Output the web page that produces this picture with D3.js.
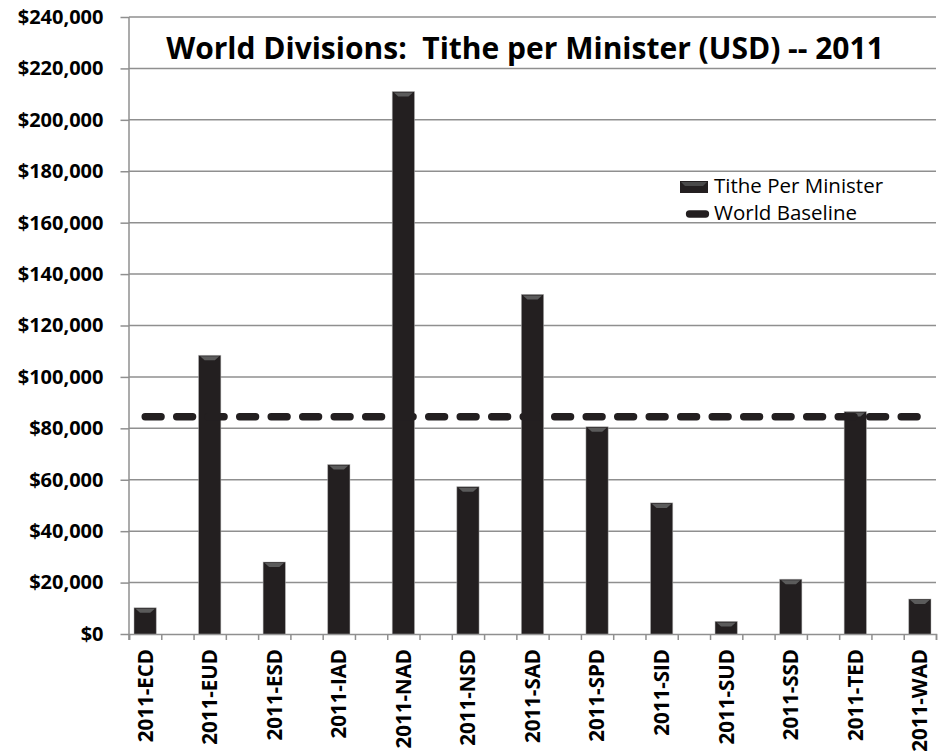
<!DOCTYPE html>
<html>
<head>
<meta charset="utf-8">
<script src="https://cdn.jsdelivr.net/npm/d3@7"></script>
<style>
  body { margin: 0; background: #fff; }
  text { font-family: "Open Sans", "DejaVu Sans", sans-serif; }
</style>
</head>
<body>
<div id="vis"></div>
<script>
var categories = ["2011-ECD", "2011-EUD", "2011-ESD", "2011-IAD", "2011-NAD", "2011-NSD", "2011-SAD",
  "2011-SPD", "2011-SID", "2011-SUD", "2011-SSD", "2011-TED", "2011-WAD"];
var tithePerMinister = [10200, 108400, 28000, 65900, 211000, 57300, 132100, 80600, 51000, 4900, 21300, 86500, 13600];
var worldBaseline = 84500;
var yTicks = [0, 20000, 40000, 60000, 80000, 100000, 120000, 140000, 160000, 180000, 200000, 220000, 240000];
var title = "World Divisions:  Tithe per Minister (USD) -- 2011";
var legendLabels = ["Tithe Per Minister", "World Baseline"];

var width = 948, height = 754;
var margin = { top: 17, right: 12, bottom: 120, left: 129 };
var barColor = "#231f20", gridColor = "#8f8f8f";

var svg = d3.select("#vis")
  .append("svg")
  .attr("width", width)
  .attr("height", height);

svg.append("rect").attr("width", width).attr("height", height).attr("fill", "#fff");

// each division gets a slot, with an empty slot between divisions
var slots = [];
categories.forEach(function (c, i) {
  slots.push(c);
  if (i < categories.length - 1) slots.push("_gap" + i);
});

var x = d3.scaleBand()
  .domain(slots)
  .range([margin.left, width - margin.right]);
var xTicks = d3.scaleLinear()
  .domain([0, slots.length])
  .range(x.range());
var y = d3.scaleLinear()
  .domain([0, 240000])
  .range([height - margin.bottom, margin.top]);

////////// grid + axes //////////
svg.append("g")
  .attr("class", "grid")
  .selectAll("line")
  .data(yTicks.slice(1))
  .enter()
  .append("line")
  .attr("x1", x.range()[0])
  .attr("x2", x.range()[1])
  .attr("y1", function (d) { return y(d); })
  .attr("y2", function (d) { return y(d); })
  .attr("stroke", gridColor)
  .attr("stroke-width", 1.5);

var yAxis = svg.append("g")
  .attr("transform", "translate(" + margin.left + ",0)")
  .call(d3.axisLeft(y)
    .tickValues(yTicks)
    .tickSize(8.5)
    .tickPadding(17)
    .tickFormat(function (d) { return "$" + d3.format(",")(d); }));
yAxis.select(".domain").remove();
yAxis.selectAll(".tick line").attr("stroke", gridColor).attr("stroke-width", 1.5);
yAxis.selectAll(".tick text")
  .attr("fill", "#000")
  .style("font-size", "20px")
  .style("font-weight", "bold")
  .style("font-family", "'Open Sans', sans-serif");

svg.append("line")
  .attr("x1", margin.left).attr("x2", margin.left)
  .attr("y1", y(240000)).attr("y2", y(0) + 6)
  .attr("stroke", gridColor)
  .attr("stroke-width", 1.5);

var xAxis = svg.append("g")
  .attr("transform", "translate(0," + y(0) + ")")
  .call(d3.axisBottom(xTicks)
    .tickValues(d3.range(slots.length + 1))
    .tickSize(6)
    .tickFormat(""));
xAxis.select(".domain").attr("stroke", gridColor).attr("stroke-width", 1.5);
xAxis.selectAll(".tick line").attr("stroke", gridColor).attr("stroke-width", 1.5);

svg.append("g")
  .selectAll("text")
  .data(categories)
  .enter()
  .append("text")
  .attr("transform", function (d) {
    return "translate(" + (x(d) + x.bandwidth() / 2) + "," + (y(0) + 15) + ") rotate(-90)";
  })
  .attr("text-anchor", "end")
  .attr("dy", "0.36em")
  .style("font-size", "20.5px")
  .style("font-weight", "bold")
  .text(function (d) { return d; });

////////// bars //////////
var barW = x.bandwidth() * 0.69;
var bars = svg.append("g")
  .selectAll("g")
  .data(categories)
  .enter()
  .append("g");

bars.append("rect")
  .attr("x", function (d) { return x(d) + (x.bandwidth() - barW) / 2; })
  .attr("y", function (d, i) { return y(tithePerMinister[i]); })
  .attr("width", barW)
  .attr("height", function (d, i) { return y(0) - y(tithePerMinister[i]); })
  .attr("fill", barColor)
  .attr("stroke", "#b5b5b5")
  .attr("stroke-opacity", 0.6)
  .attr("stroke-width", 0.8);

// little bevel on the bar tops
bars.append("polygon")
  .attr("points", function (d, i) {
    var x0 = x(d) + (x.bandwidth() - barW) / 2, t = y(tithePerMinister[i]);
    return [[x0 + 1.5, t + 1], [x0 + barW - 1.5, t + 1], [x0 + barW - 6, t + 5], [x0 + 6, t + 5]].join(" ");
  })
  .attr("fill", "#5b5b5b");

////////// baseline //////////
svg.append("line")
  .attr("x1", x(categories[0]) + x.bandwidth() / 2)
  .attr("x2", x(categories[categories.length - 1]) + x.bandwidth() / 2)
  .attr("y1", y(worldBaseline))
  .attr("y2", y(worldBaseline))
  .attr("stroke", barColor)
  .attr("stroke-width", 7.3)
  .attr("stroke-linecap", "round")
  .attr("stroke-dasharray", "16,15.5");

////////// title //////////
svg.append("text")
  .attr("x", 525)
  .attr("y", 59)
  .attr("text-anchor", "middle")
  .style("font-size", "30px")
  .style("font-weight", "bold")
  .style("white-space", "pre")
  .attr("xml:space", "preserve")
  .text(title);

////////// legend //////////
var legend = svg.append("g").attr("transform", "translate(680,0)");
legend.append("rect")
  .attr("x", 0).attr("y", 181)
  .attr("width", 28).attr("height", 12)
  .attr("fill", barColor);
legend.append("polygon")
  .attr("points", "1,182 27,182 23,186 5,186")
  .attr("fill", "#4a4a4a");
legend.append("line")
  .attr("x1", 9.5).attr("x2", 25.5)
  .attr("y1", 214).attr("y2", 214)
  .attr("stroke", barColor)
  .attr("stroke-width", 7.3)
  .attr("stroke-linecap", "round");
legend.selectAll("text.lg")
  .data(legendLabels)
  .enter()
  .append("text")
  .attr("class", "lg")
  .attr("x", 34)
  .attr("y", function (d, i) { return 193 + i * 27; })
  .style("font-size", "20.5px")
  .text(function (d) { return d; });
</script>
</body>
</html>
